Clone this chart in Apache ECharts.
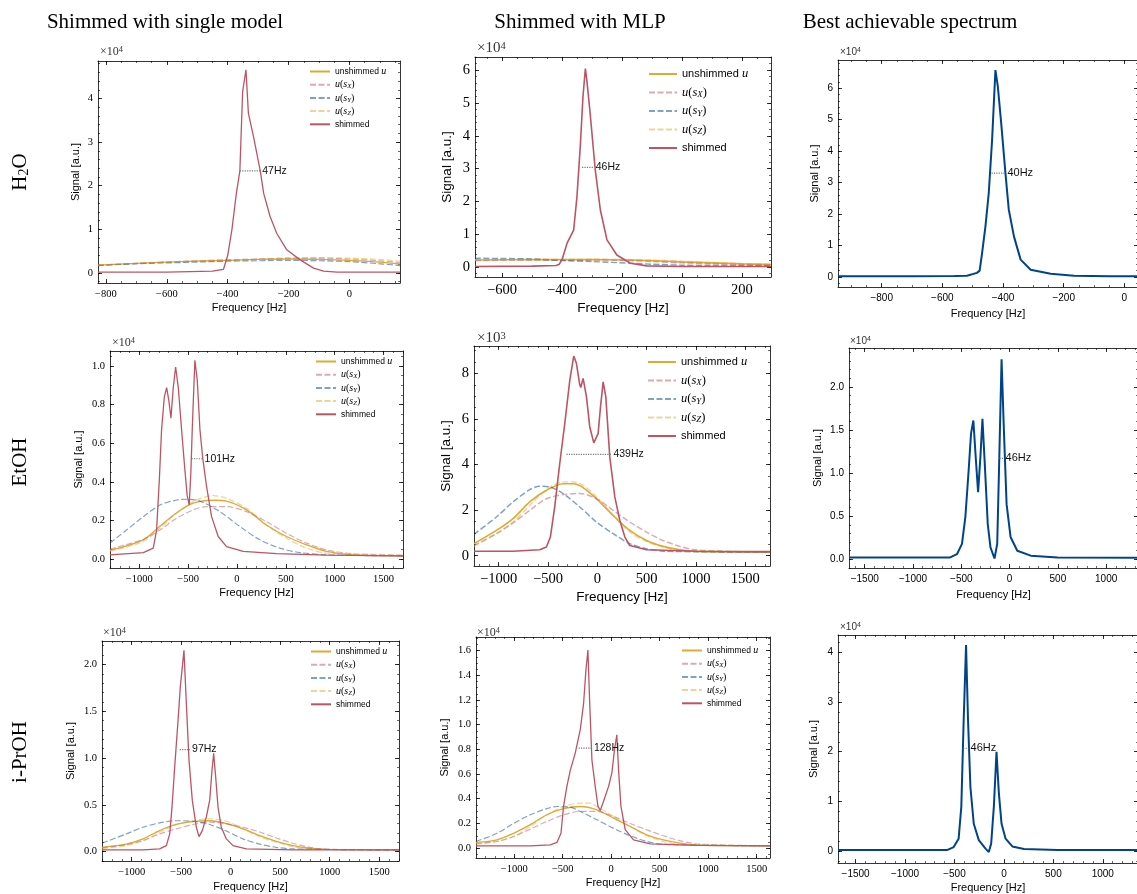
<!DOCTYPE html>
<html>
<head>
<meta charset="utf-8">
<script src="https://cdn.jsdelivr.net/npm/echarts@6/dist/echarts.min.js"></script>
<style>
  html, body { margin: 0; padding: 0; background: #fff; }
  #main { width: 1137px; height: 894px; }
</style>
</head>
<body>
<div id="main"></div>
<script>
// signal values are given in units of the x10^n factor printed above each panel

// ---- H2O, shimmed with single model (x10^4) ----
var h2oSingleUnsh = [[-826,0.18],[-700,0.22],[-600,0.25],[-500,0.27],[-400,0.29],[-300,0.31],[-200,0.32],[-100,0.31],[0,0.29],[100,0.25],[166,0.21]];
var h2oSingleSX = [[-826,0.18],[-700,0.22],[-600,0.25],[-500,0.28],[-400,0.3],[-300,0.32],[-200,0.34],[-100,0.34],[0,0.32],[100,0.28],[166,0.24]];
var h2oSingleSY = [[-826,0.17],[-700,0.21],[-600,0.23],[-500,0.25],[-400,0.27],[-300,0.28],[-200,0.29],[-100,0.28],[0,0.26],[100,0.21],[166,0.17]];
var h2oSingleSZ = [[-826,0.18],[-700,0.22],[-600,0.25],[-500,0.28],[-400,0.3],[-300,0.32],[-200,0.34],[-100,0.35],[0,0.34],[100,0.31],[166,0.27]];
var h2oSingleShim = [[-826,0.02],[-600,0.02],[-450,0.04],[-414,0.08],[-400,0.4],[-386,1.0],[-372,1.8],[-360,2.34],[-351,4.15],[-340,4.66],[-332,3.66],[-315,3.12],[-293,2.34],[-282,1.83],[-261,1.3],[-239,0.91],[-206,0.53],[-162,0.3],[-118,0.11],[-85,0.04],[-40,0.02],[166,0.02]];
var h2oSingleFwhm = [-360, -293, 2.34];

// ---- H2O, shimmed with MLP (x10^4) ----
var h2oMlpUnsh = [[-690,0.22],[-500,0.23],[-300,0.23],[-172,0.22],[-100,0.2],[0,0.16],[100,0.13],[200,0.1],[297,0.08]];
var h2oMlpSX = [[-690,0.2],[-500,0.22],[-300,0.22],[-172,0.2],[-100,0.17],[0,0.13],[100,0.1],[200,0.08],[297,0.07]];
var h2oMlpSY = [[-690,0.27],[-500,0.25],[-394,0.2],[-300,0.17],[-172,0.12],[-100,0.09],[0,0.06],[100,0.05],[297,0.04]];
var h2oMlpSZ = [[-690,0.22],[-500,0.23],[-300,0.24],[-172,0.23],[-100,0.21],[0,0.18],[100,0.14],[200,0.11],[297,0.09]];
var h2oMlpShim = [[-690,0.02],[-500,0.03],[-420,0.05],[-410,0.08],[-400,0.22],[-383,0.73],[-361,1.13],[-350,2.15],[-339,3.67],[-330,5.19],[-322,6.05],[-317,5.69],[-306,4.68],[-289,2.96],[-272,1.74],[-250,0.83],[-217,0.37],[-172,0.12],[-117,0.04],[0,0.02],[297,0.02]];
var h2oMlpFwhm = [-333, -294, 3.04];

// ---- H2O, best achievable (x10^4) ----
var h2oBest = [[-944,0.02],[-700,0.02],[-560,0.03],[-519,0.04],[-486,0.13],[-477,0.2],[-469,0.76],[-458,1.6],[-447,2.67],[-436,4.36],[-425,6.58],[-417,6.05],[-406,4.89],[-392,3.3],[-381,2.14],[-364,1.29],[-342,0.55],[-309,0.23],[-243,0.1],[-166,0.04],[-50,0.02],[45,0.02]];
var h2oBestFwhm = [-438, -392, 3.3];

// ---- EtOH, shimmed with single model (x10^4) ----
var etohSingleUnsh = [[-1300,0.045],[-959,0.10],[-789,0.17],[-618,0.24],[-448,0.29],[-243,0.305],[-107,0.30],[98,0.255],[302,0.177],[507,0.117],[712,0.074],[916,0.04],[1189,0.022],[1700,0.017]];
var etohSingleSX = [[-1300,0.052],[-959,0.103],[-789,0.151],[-618,0.212],[-448,0.255],[-311,0.272],[-107,0.272],[98,0.246],[302,0.194],[507,0.134],[712,0.083],[916,0.048],[1189,0.028],[1700,0.021]];
var etohSingleSY = [[-1300,0.083],[-1130,0.151],[-959,0.22],[-789,0.28],[-618,0.306],[-516,0.31],[-379,0.30],[-175,0.246],[30,0.169],[234,0.10],[439,0.057],[643,0.034],[916,0.022],[1700,0.017]];
var etohSingleSZ = [[-1300,0.04],[-959,0.091],[-789,0.16],[-618,0.237],[-448,0.298],[-243,0.329],[-107,0.315],[98,0.263],[302,0.177],[507,0.108],[712,0.057],[916,0.031],[1700,0.017]];
var etohSingleShim = [[-1300,0.022],[-959,0.034],[-857,0.057],[-823,0.15],[-795,0.41],[-772,0.67],[-744,0.84],[-720,0.888],[-697,0.82],[-676,0.73],[-652,0.89],[-628,0.995],[-601,0.89],[-567,0.67],[-533,0.46],[-510,0.33],[-489,0.28],[-472,0.45],[-458,0.67],[-431,1.03],[-407,0.93],[-379,0.67],[-352,0.53],[-311,0.375],[-260,0.22],[-192,0.117],[-107,0.065],[64,0.04],[405,0.028],[916,0.021],[1700,0.017]];
var etohSingleFwhm = [-465, -352, 0.52];

// ---- EtOH, shimmed with MLP (x10^3) ----
var etohMlpUnsh = [[-1250,0.53],[-1023,1.11],[-854,1.63],[-685,2.36],[-516,2.87],[-347,3.16],[-246,3.16],[-144,2.99],[-9,2.5],[160,1.77],[329,1.11],[498,0.67],[667,0.41],[837,0.26],[1006,0.19],[1750,0.16]];
var etohMlpSX = [[-1250,0.45],[-1023,0.97],[-854,1.44],[-685,1.99],[-516,2.5],[-347,2.68],[-178,2.73],[-9,2.5],[160,1.99],[329,1.48],[498,1.04],[667,0.67],[837,0.41],[1006,0.26],[1344,0.19],[1750,0.16]];
var etohMlpSY = [[-1250,0.94],[-1023,1.7],[-854,2.36],[-685,2.9],[-584,3.05],[-482,3.02],[-347,2.73],[-178,2.14],[-9,1.48],[160,0.97],[329,0.53],[498,0.31],[667,0.2],[1750,0.16]];
var etohMlpSZ = [[-1250,0.41],[-1023,0.97],[-854,1.48],[-685,2.21],[-516,2.9],[-347,3.24],[-246,3.24],[-144,3.09],[-9,2.58],[160,1.77],[329,1.04],[498,0.63],[667,0.38],[837,0.23],[1750,0.16]];
var etohMlpShim = [[-1250,0.2],[-854,0.2],[-584,0.26],[-516,0.38],[-476,0.82],[-432,2.14],[-381,4.04],[-330,5.8],[-279,7.7],[-239,8.76],[-212,8.44],[-178,7.5],[-168,7.38],[-144,7.78],[-110,6.97],[-77,5.66],[-36,4.95],[8,5.36],[32,6.53],[59,7.63],[86,6.97],[126,4.34],[177,2.58],[228,1.55],[279,0.82],[329,0.45],[498,0.26],[1006,0.2],[1750,0.18]];
var etohMlpFwhm = [-313, 143, 4.45];

// ---- EtOH, best achievable (x10^4) ----
var etohBest = [[-1663,0.023],[-1000,0.023],[-615,0.023],[-545,0.06],[-493,0.18],[-458,0.49],[-424,1.03],[-399,1.46],[-375,1.61],[-351,1.19],[-326,0.78],[-302,1.19],[-281,1.63],[-257,1.11],[-226,0.41],[-198,0.14],[-156,0.01],[-128,0.18],[-108,1.11],[-83,2.32],[-59,1.5],[-31,0.64],[10,0.26],[80,0.10],[219,0.043],[497,0.023],[1330,0.02]];
var etohBestFwhm = [-105, -62, 1.17];

// ---- i-PrOH, shimmed with single model (x10^4) ----
var iprohSingleUnsh = [[-1300,0.046],[-1054,0.08],[-886,0.136],[-718,0.225],[-549,0.29],[-381,0.32],[-212,0.33],[-44,0.3],[124,0.243],[293,0.17],[461,0.11],[629,0.064],[798,0.036],[966,0.025],[1700,0.018]];
var iprohSingleSX = [[-1300,0.04],[-1054,0.075],[-886,0.118],[-718,0.19],[-549,0.243],[-381,0.29],[-212,0.314],[-44,0.30],[124,0.26],[293,0.21],[461,0.146],[629,0.09],[798,0.046],[966,0.025],[1700,0.018]];
var iprohSingleSY = [[-1300,0.09],[-1054,0.19],[-886,0.26],[-718,0.307],[-549,0.33],[-381,0.325],[-212,0.29],[-44,0.22],[124,0.136],[293,0.08],[461,0.046],[629,0.029],[1700,0.018]];
var iprohSingleSZ = [[-1300,0.032],[-1054,0.064],[-886,0.118],[-718,0.207],[-549,0.29],[-381,0.33],[-212,0.35],[-44,0.325],[124,0.243],[293,0.16],[461,0.1],[629,0.054],[798,0.029],[1700,0.018]];
var iprohSingleShim = [[-1300,0.018],[-886,0.018],[-718,0.03],[-650,0.064],[-616,0.19],[-593,0.475],[-566,0.9],[-532,1.4],[-509,1.76],[-472,2.15],[-448,1.58],[-421,0.975],[-388,0.55],[-347,0.26],[-320,0.16],[-287,0.225],[-246,0.37],[-212,0.55],[-189,0.87],[-172,1.05],[-152,0.8],[-128,0.475],[-95,0.26],[-44,0.136],[23,0.064],[158,0.03],[629,0.018],[1700,0.018]];
var iprohSingleFwhm = [-515, -410, 1.09];

// ---- i-PrOH, shimmed with MLP (x10^4) ----
var iprohMlpUnsh = [[-1394,0.046],[-1177,0.067],[-1006,0.12],[-834,0.19],[-663,0.27],[-491,0.32],[-319,0.337],[-148,0.31],[24,0.243],[196,0.175],[367,0.108],[539,0.067],[711,0.04],[882,0.024],[1637,0.019]];
var iprohMlpSX = [[-1394,0.035],[-1177,0.054],[-1006,0.094],[-834,0.154],[-663,0.216],[-491,0.27],[-319,0.297],[-148,0.297],[24,0.256],[196,0.2],[367,0.148],[539,0.1],[711,0.059],[882,0.035],[1225,0.024],[1637,0.019]];
var iprohMlpSY = [[-1394,0.054],[-1177,0.12],[-1006,0.2],[-834,0.27],[-663,0.32],[-560,0.337],[-422,0.332],[-319,0.297],[-148,0.23],[24,0.16],[196,0.1],[367,0.054],[539,0.03],[1637,0.019]];
var iprohMlpSZ = [[-1394,0.035],[-1177,0.054],[-1006,0.094],[-834,0.175],[-663,0.27],[-491,0.337],[-319,0.364],[-216,0.364],[-148,0.337],[24,0.256],[196,0.175],[367,0.1],[539,0.054],[711,0.03],[1637,0.019]];
var iprohMlpShim = [[-1394,0.019],[-834,0.019],[-628,0.027],[-560,0.046],[-518,0.12],[-491,0.34],[-457,0.5],[-422,0.63],[-371,0.77],[-319,0.96],[-285,1.17],[-261,1.44],[-240,1.605],[-223,1.2],[-199,0.715],[-165,0.5],[-137,0.34],[-113,0.305],[-79,0.38],[-27,0.5],[7,0.61],[34,0.8],[58,0.917],[76,0.63],[100,0.34],[144,0.15],[230,0.067],[402,0.035],[882,0.022],[1637,0.019]];
var iprohMlpFwhm = [-336, -199, 0.81];

// ---- i-PrOH, best achievable (x10^4) ----
var iprohBest = [[-1678,0.02],[-1000,0.02],[-576,0.02],[-508,0.08],[-458,0.25],[-431,0.89],[-407,2.64],[-383,4.15],[-363,2.64],[-339,1.29],[-305,0.55],[-254,0.22],[-186,0.05],[-153,-0.02],[-129,0.15],[-102,0.89],[-75,2.0],[-51,1.16],[-24,0.55],[17,0.25],[85,0.094],[203,0.04],[542,0.02],[1356,0.02]];
var iprohBestFwhm = [-412, -358, 2.07];

// ---- tick labels ----
var h2oSingleXTicks = [-800, -600, -400, -200, 0];
var h2oSingleYTicks = [0, 1, 2, 3, 4];
var h2oMlpXTicks = [-600, -400, -200, 0, 200];
var h2oMlpYTicks = [0, 1, 2, 3, 4, 5, 6];
var h2oBestXTicks = [-800, -600, -400, -200, 0];
var h2oBestYTicks = [0, 1, 2, 3, 4, 5, 6];
var etohSingleXTicks = [-1000, -500, 0, 500, 1000, 1500];
var etohSingleYTicks = [0, 0.2, 0.4, 0.6, 0.8, 1.0];
var etohMlpXTicks = [-1000, -500, 0, 500, 1000, 1500];
var etohMlpYTicks = [0, 2, 4, 6, 8];
var etohBestXTicks = [-1500, -1000, -500, 0, 500, 1000];
var etohBestYTicks = [0, 0.5, 1.0, 1.5, 2.0];
var iprohSingleXTicks = [-1000, -500, 0, 500, 1000, 1500];
var iprohSingleYTicks = [0, 0.5, 1.0, 1.5, 2.0];
var iprohMlpXTicks = [-1000, -500, 0, 500, 1000, 1500];
var iprohMlpYTicks = [0, 0.2, 0.4, 0.6, 0.8, 1.0, 1.2, 1.4, 1.6];
var iprohBestXTicks = [-1500, -1000, -500, 0, 500, 1000];
var iprohBestYTicks = [0, 1, 2, 3, 4];

var colTitles = ['Shimmed with single model', 'Shimmed with MLP', 'Best achievable spectrum'];
var rowTitles = ['H{sub|2}O', 'EtOH', 'i-PrOH'];
var seriesNames = ['unshimmed u', 'u(s_X)', 'u(s_Y)', 'u(s_Z)', 'shimmed'];

var styles = {
    small: {tick: 'Liberation Serif', tickSize: 10.5, nameSize: 11, legSize: 8.5, legW: 20, legLH: 11, legGap: 2.2, expFont: 'Liberation Serif', expSize: 12, lw: 1.3, fwSize: 10.5},
    large: {tick: 'Liberation Serif', tickSize: 14.5, nameSize: 13.5, legSize: 11, legW: 28, legLH: 14, legGap: 4.5, expFont: 'Liberation Serif', expSize: 15, lw: 1.6, fwSize: 10.5},
    sans:  {tick: 'Liberation Sans', tickSize: 10, nameSize: 11, legSize: 9, legW: 20, legLH: 11, legGap: 2, expFont: 'Liberation Sans', expSize: 10, lw: 2, fwSize: 11}
};

var panels = [
    {box: [98, 61, 302, 222], xr: [-826, 166], yr: [-0.23, 4.86], xt: h2oSingleXTicks, yt: h2oSingleYTicks, xm: 50, ym: 0.2, yd: 0, st: 'small', exp: '4', expPos: [100, 52], xGap: 19, yGap: 17, leg: [309, 66],
     curves: [h2oSingleUnsh, h2oSingleSX, h2oSingleSY, h2oSingleSZ, h2oSingleShim], fw: h2oSingleFwhm, fwTxt: '47Hz'},
    {box: [475, 57, 296, 220], xr: [-690, 297], yr: [-0.3, 6.4], xt: h2oMlpXTicks, yt: h2oMlpYTicks, xm: 50, ym: 0.2, yd: 0, st: 'large', exp: '4', expPos: [477, 48], xGap: 24, yGap: 21, leg: [648, 67],
     curves: [h2oMlpUnsh, h2oMlpSX, h2oMlpSY, h2oMlpSZ, h2oMlpShim], fw: h2oMlpFwhm, fwTxt: '46Hz'},
    {box: [838, 60, 300, 227], xr: [-944, 45], yr: [-0.32, 6.9], xt: h2oBestXTicks, yt: h2oBestYTicks, xm: 50, ym: 0.2, yd: 0, st: 'sans', exp: '4', expPos: [840, 52], xGap: 21, yGap: 18,
     curves: [h2oBest], fw: h2oBestFwhm, fwTxt: '40Hz'},
    {box: [110, 351, 293, 217], xr: [-1300, 1700], yr: [-0.046, 1.078], xt: etohSingleXTicks, yt: etohSingleYTicks, xm: 100, ym: 0.05, yd: 1, st: 'small', exp: '4', expPos: [112, 343], xGap: 19, yGap: 26, leg: [315, 356],
     curves: [etohSingleUnsh, etohSingleSX, etohSingleSY, etohSingleSZ, etohSingleShim], fw: etohSingleFwhm, fwTxt: '101Hz'},
    {box: [474, 346, 296, 220], xr: [-1250, 1750], yr: [-0.45, 9.2], xt: etohMlpXTicks, yt: etohMlpYTicks, xm: 100, ym: 0.5, yd: 0, st: 'large', exp: '3', expPos: [477, 338], xGap: 24, yGap: 21, leg: [647, 355],
     curves: [etohMlpUnsh, etohMlpSX, etohMlpSY, etohMlpSZ, etohMlpShim], fw: etohMlpFwhm, fwTxt: '439Hz'},
    {box: [849, 348, 289, 220], xr: [-1663, 1330], yr: [-0.1, 2.45], xt: etohBestXTicks, yt: etohBestYTicks, xm: 100, ym: 0.1, yd: 1, st: 'sans', exp: '4', expPos: [850, 341], xGap: 21, yGap: 26,
     curves: [etohBest], fw: etohBestFwhm, fwTxt: '46Hz'},
    {box: [102, 641, 297, 220], xr: [-1300, 1700], yr: [-0.1, 2.25], xt: iprohSingleXTicks, yt: iprohSingleYTicks, xm: 100, ym: 0.1, yd: 1, st: 'small', exp: '4', expPos: [103, 633], xGap: 20, yGap: 26, leg: [310, 646],
     curves: [iprohSingleUnsh, iprohSingleSX, iprohSingleSY, iprohSingleSZ, iprohSingleShim], fw: iprohSingleFwhm, fwTxt: '97Hz'},
    {box: [476, 637, 294, 221], xr: [-1394, 1637], yr: [-0.08, 1.71], xt: iprohMlpXTicks, yt: iprohMlpYTicks, xm: 100, ym: 0.05, yd: 1, st: 'small', exp: '4', expPos: [477, 633], xGap: 19, yGap: 26, leg: [681, 645],
     curves: [iprohMlpUnsh, iprohMlpSX, iprohMlpSY, iprohMlpSZ, iprohMlpShim], fw: iprohMlpFwhm, fwTxt: '128Hz'},
    {box: [838, 635, 300, 228], xr: [-1678, 1356], yr: [-0.24, 4.35], xt: iprohBestXTicks, yt: iprohBestYTicks, xm: 100, ym: 0.2, yd: 0, st: 'sans', exp: '4', expPos: [840, 627], xGap: 19, yGap: 19,
     curves: [iprohBest], fw: iprohBestFwhm, fwTxt: '46Hz'}
];

var curveStyles = [
    {color: '#DDAA33', type: 'solid', smooth: 0.3},
    {color: 'rgba(187,85,102,0.5)', type: [6, 2.5], smooth: 0.3},
    {color: 'rgba(0,68,136,0.5)', type: [6, 2.5], smooth: 0.3},
    {color: 'rgba(221,170,51,0.5)', type: [6, 2.5], smooth: 0.3},
    {color: '#BB5566', type: 'solid', smooth: false}
];

function fmt(v, dec) {
    return v.toFixed(dec).replace('-', '\u2212');
}
function minorVals(r, step) {
    var out = [];
    var s = Math.ceil(r[0] / step);
    for (var k = s; k * step <= r[1] + 1e-9; k++) out.push(+(k * step).toFixed(6));
    return out;
}
function legendText(name) {
    if (name === 'unshimmed u') return 'unshimmed {m|u}';
    if (name === 'shimmed') return 'shimmed';
    var c = name.charAt(4);
    return '{m|u}{r|(}{m|s}{sub|' + c + '}{r|)}';
}

var grids = [], xAxes = [], yAxes = [], series = [], legends = [], graphics = [];

panels.forEach(function (p, i) {
    var st = styles[p.st];
    grids.push({left: p.box[0], top: p.box[1], width: p.box[2], height: p.box[3], containLabel: false, outerBoundsMode: 'none'});

    ['bottom', 'top'].forEach(function (pos) {
        var main = pos === 'bottom';
        xAxes.push({
            gridIndex: i, type: 'value', position: pos, min: p.xr[0], max: p.xr[1],
            axisLine: {show: true, onZero: false, lineStyle: {color: '#000', width: 0.8}},
            axisTick: {show: true, inside: true, length: 4, customValues: p.xt, lineStyle: {color: '#000', width: 0.8}},
            axisLabel: {show: main, customValues: p.xt, margin: 6, color: '#000', fontFamily: st.tick, fontSize: st.tickSize,
                formatter: function (v) { return fmt(v, 0); }},
            splitLine: {show: false},
            name: main ? 'Frequency [Hz]' : '', nameLocation: 'middle', nameGap: p.xGap, nameMoveOverlap: false,
            nameTextStyle: {color: '#000', fontFamily: 'Liberation Sans', fontSize: st.nameSize}
        });
        xAxes.push({
            gridIndex: i, type: 'value', position: pos, min: p.xr[0], max: p.xr[1],
            axisLine: {show: false, onZero: false},
            axisTick: {show: true, inside: true, length: 2, customValues: minorVals(p.xr, p.xm), lineStyle: {color: '#000', width: 0.6}},
            axisLabel: {show: false}, splitLine: {show: false}
        });
    });
    ['left', 'right'].forEach(function (pos) {
        var main = pos === 'left';
        yAxes.push({
            gridIndex: i, type: 'value', position: pos, min: p.yr[0], max: p.yr[1],
            axisLine: {show: true, onZero: false, lineStyle: {color: '#000', width: 0.8}},
            axisTick: {show: true, inside: true, length: 4, customValues: p.yt, lineStyle: {color: '#000', width: 0.8}},
            axisLabel: {show: main, customValues: p.yt, margin: 5, color: '#000', fontFamily: st.tick, fontSize: st.tickSize,
                formatter: function (v) { return fmt(v, p.yd); }},
            splitLine: {show: false},
            name: main ? 'Signal [a.u.]' : '', nameLocation: 'middle', nameGap: p.yGap, nameMoveOverlap: false,
            nameTextStyle: {color: '#000', fontFamily: 'Liberation Sans', fontSize: st.nameSize}
        });
        yAxes.push({
            gridIndex: i, type: 'value', position: pos, min: p.yr[0], max: p.yr[1],
            axisLine: {show: false, onZero: false},
            axisTick: {show: true, inside: true, length: 2, customValues: minorVals(p.yr, p.ym), lineStyle: {color: '#000', width: 0.6}},
            axisLabel: {show: false}, splitLine: {show: false}
        });
    });

    var xi = i * 4, yi = i * 4;
    if (p.curves.length === 1) {
        series.push({
            name: 'best', type: 'line', xAxisIndex: xi, yAxisIndex: yi, data: p.curves[0],
            symbol: 'none', silent: true, lineStyle: {color: '#004488', width: st.lw}
        });
    } else {
        p.curves.forEach(function (c, k) {
            var cs = curveStyles[k];
            series.push({
                name: seriesNames[k], type: 'line', xAxisIndex: xi, yAxisIndex: yi, data: c,
                symbol: 'none', silent: true, smooth: cs.smooth,
                itemStyle: {color: cs.color, opacity: 0},
                lineStyle: {color: cs.color, type: cs.type, width: k === 0 || k === 4 ? st.lw : st.lw * 0.9}
            });
        });
        var rich = {
            m: {fontFamily: 'Liberation Serif', fontStyle: 'italic', fontSize: st.legSize + 1.5, lineHeight: st.legLH},
            r: {fontFamily: 'Liberation Serif', fontSize: st.legSize + 1.5, lineHeight: st.legLH},
            sub: {fontFamily: 'Liberation Serif', fontStyle: 'italic', fontSize: st.legSize * 0.8, lineHeight: st.legLH, verticalAlign: 'bottom'}
        };
        legends.push({
            orient: 'vertical', left: p.leg[0], top: p.leg[1], padding: 0,
            itemWidth: st.legW, itemHeight: 8, itemGap: st.legGap, selectedMode: false,
            itemStyle: {opacity: 0},
            data: seriesNames, formatter: legendText,
            textStyle: {color: '#000', fontFamily: 'Liberation Sans', fontSize: st.legSize, lineHeight: st.legLH, rich: rich}
        });
    }

    series.push({
        name: 'fwhm' + i, type: 'line', xAxisIndex: xi, yAxisIndex: yi,
        data: [[p.fw[0], p.fw[2]], [p.fw[1], p.fw[2]]],
        symbol: 'none', silent: true,
        lineStyle: {color: '#777', type: 'dotted', width: 1.2},
        endLabel: {show: true, formatter: p.fwTxt, distance: 2, color: '#111', fontFamily: 'Liberation Sans', fontSize: st.fwSize}
    });

    graphics.push({
        type: 'text', x: p.expPos[0], y: p.expPos[1], silent: true,
        style: {
            text: '\u00d710{sup|' + p.exp + '}', fill: '#333', verticalAlign: 'middle',
            font: st.expSize + 'px "' + st.expFont + '"',
            rich: {sup: {fontSize: st.expSize * 0.7, fontFamily: st.expFont, verticalAlign: 'top', fill: '#333'}}
        }
    });
});

var titleX = [165, 580, 910];
colTitles.forEach(function (t, c) {
    graphics.push({
        type: 'text', x: titleX[c], y: 22, silent: true,
        style: {text: t, fill: '#000', align: 'center', verticalAlign: 'middle', font: '21px "Liberation Serif"'}
    });
});
var rowY = [172, 462, 752];
rowTitles.forEach(function (t, r) {
    graphics.push({
        type: 'text', x: 20, y: rowY[r], rotation: Math.PI / 2, silent: true,
        style: {
            text: t, fill: '#000', align: 'center', verticalAlign: 'middle', font: '21px "Liberation Serif"',
            rich: {sub: {fontSize: 14, fontFamily: 'Liberation Serif', verticalAlign: 'bottom', padding: [8, 0, 0, 0]}}
        }
    });
});

var myChart = echarts.init(document.getElementById('main'));
var option = {
    backgroundColor: '#fff',
    animation: false,
    grid: grids,
    xAxis: xAxes,
    yAxis: yAxes,
    legend: legends,
    series: series,
    graphic: graphics
};
myChart.setOption(option);
</script>
</body>
</html>
